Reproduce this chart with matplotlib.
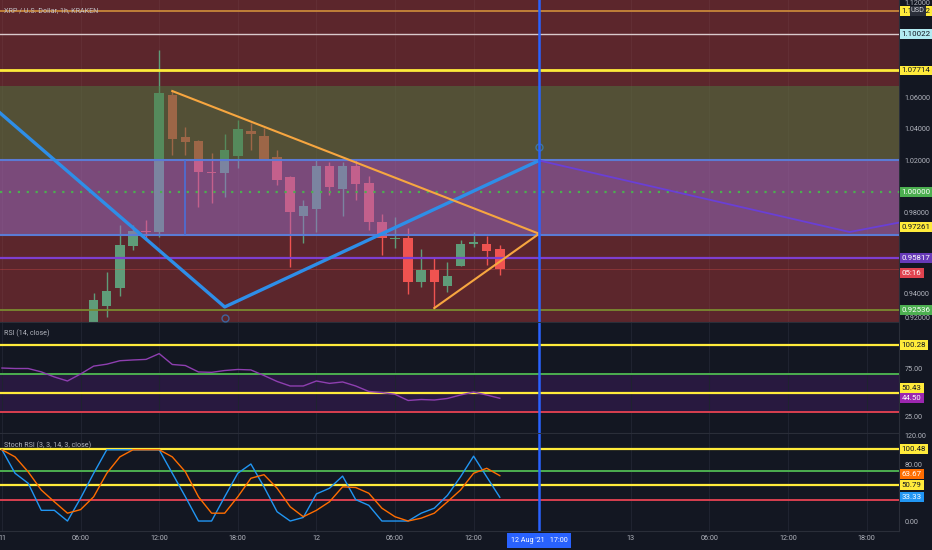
import matplotlib
matplotlib.use('Agg')
import matplotlib.pyplot as plt

plt.rcParams['font.family'] = ['Roboto', 'DejaVu Sans']

# hourly candles, hour 0 = 11 Aug 00:00
hours = list(range(7, 39))
opens = [0.9090, 0.9276, 0.9390, 0.9657, 0.9752, 0.9748, 1.0616, 1.0349, 1.0324, 1.0127,
         1.0121, 1.0229, 1.0387, 1.0356, 1.0222, 1.0095, 0.9848, 0.9892, 1.0165, 1.0019,
         1.0165, 1.0057, 0.9810, 0.9702, 0.9708, 0.9429, 0.9505, 0.9403, 0.9530, 0.9670,
         0.9670, 0.9638]
highs = [0.9359, 0.9492, 0.9790, 0.9790, 0.9822, 1.0902, 1.0648, 1.0413, 1.0330, 1.0248,
         1.0368, 1.0457, 1.0438, 1.0406, 1.0267, 1.0100, 0.9949, 1.0203, 1.0190, 1.0190,
         1.0203, 1.0102, 0.9860, 0.9841, 0.9771, 0.9638, 0.9581, 0.9556, 0.9695, 0.9746,
         0.9718, 0.9663]
lows = [0.9030, 0.9206, 0.9340, 0.9632, 0.9695, 0.9714, 1.0235, 1.0235, 0.9905, 0.9930,
        0.9968, 1.0152, 1.0267, 1.0203, 1.0044, 0.9524, 0.9676, 0.9746, 0.9981, 0.9848,
        0.9949, 0.9759, 0.9600, 0.9644, 0.9352, 0.9397, 0.9263, 0.9365, 0.9530, 0.9651,
        0.9537, 0.9473]
closes = [0.9314, 0.9371, 0.9663, 0.9752, 0.9748, 1.0629, 1.0337, 1.0317, 1.0127, 1.0122,
          1.0267, 1.0400, 1.0368, 1.0210, 1.0076, 0.9873, 0.9911, 1.0165, 1.0032, 1.0165,
          1.0051, 0.9810, 0.9708, 0.9708, 0.9429, 0.9505, 0.9429, 0.9467, 0.9670, 0.9683,
          0.9625, 0.9511]

ind_hours = list(range(0, 39))
rsi = [76, 75.5, 75.5, 72, 66.7, 62.5, 69.8, 78, 80, 83.6, 84.4, 85, 91, 79.7, 78.6, 71.9,
       71.5, 73.4, 74.5, 74, 68.2, 62, 57.3, 57.3, 62.5, 60, 61.5, 57.3, 51.6, 50.5, 48.6,
       42.2, 43.2, 42.7, 44.3, 47.9, 51, 47.9, 44.5]
stoch_k = [100, 67, 53, 15, 15, 0, 32, 67, 100, 100, 100, 100, 100, 67, 34, 0, 0, 34, 67,
           80, 48, 13, 0, 5, 38, 46, 63, 30, 22, 0, 0, 0, 11, 18, 36, 62, 91, 62, 33.33]
stoch_d = [100, 90, 69, 43.5, 27, 11, 16, 34, 67, 90, 100, 100, 100, 90, 69, 34, 11, 11, 34,
           60, 65, 46, 20, 6, 15, 27, 48, 47, 39, 18, 6, 0, 4, 11, 27, 43.5, 67, 74, 63.67]

# drawings (hour, price)
zigzag_h = [-0.15, 17, 41]
zigzag_p = [1.0502, 0.9270, 1.0200]
tri_upper_h = [13, 41]
tri_upper_p = [1.0641, 0.9735]
tri_lower_h = [33, 41]
tri_lower_p = [0.9263, 0.9735]
proj_h = [41, 64.7, 70]
proj_p = [1.0200, 0.9746, 0.9830]
olive_zone = (1.0200, 1.0673)
purple_zone = (0.97261, 1.0200)
cursor_hour = 41

xtick_pos = [0, 6, 12, 18, 24, 30, 36, 48, 54, 60, 66]
xtick_lab = ['11', '06:00', '12:00', '18:00', '12', '06:00', '12:00', '13', '06:00', '12:00', '18:00']

BG = '#131722'
TXT = '#b2b5be'
GRID = '#1f2330'
FS = 5.7     # boxed price labels
FS_T = 5.2   # axis tick labels
FS_H = 5.1   # pane titles

fig = plt.figure(figsize=(9.32, 5.5), dpi=100, facecolor=BG)
ax = fig.add_axes([0, 0.41455, 0.96459, 0.58545])
ax_rsi = fig.add_axes([0, 0.21273, 0.96459, 0.2], sharex=ax)
ax_st = fig.add_axes([0, 0.03455, 0.96459, 0.17636], sharex=ax)

for a in (ax, ax_rsi, ax_st):
    a.set_facecolor(BG)
    for s in ('top', 'left'):
        a.spines[s].set_visible(False)
    a.spines['right'].set_color('#2a2e39')
    a.spines['bottom'].set_color('#2a2e39')
    a.yaxis.tick_right()
    a.tick_params(axis='y', length=0, pad=4, labelsize=FS_T, labelcolor=TXT)
    a.tick_params(axis='x', length=0, pad=3, labelsize=FS_T, labelcolor=TXT)
    a.set_xticks(xtick_pos)
    a.grid(axis='x', color=GRID, lw=0.8, zorder=0)
    a.axvline(cursor_hour, color='#2962ff', lw=1.8, zorder=15)
ax.set_xlim(-0.15, 68.47)
ax.tick_params(axis='x', labelbottom=False)
ax_rsi.tick_params(axis='x', labelbottom=False)
ax_st.set_xticklabels(xtick_lab)


def tag(a, y, text, fc, tc, dy=0):
    a.annotate(text, xy=(1, y), xycoords=('axes fraction', 'data'), xytext=(2, dy),
               textcoords='offset points', ha='left', va='center', fontsize=FS, color=tc,
               bbox=dict(boxstyle='square,pad=0.25', fc=fc, ec='none'),
               annotation_clip=False, zorder=30)


def axis_text(a, y, text, dy):
    a.annotate(text, xy=(1, y), xycoords=('axes fraction', 'data'), xytext=(3, dy),
               textcoords='offset points', ha='left', va='center', fontsize=FS_T, color=TXT,
               annotation_clip=False)


# ---- main price pane
ax.set_facecolor('#5c262c')
ax.set_ylim(0.91746, 1.1219)
ax.grid(axis='x', color='#ffffff', alpha=0.04, lw=0.8)
ax.set_yticks([0.92, 1.02, 1.04, 1.06, 1.12])
ax.yaxis.set_major_formatter(lambda v, p: f'{v:.5f}')
axis_text(ax, 0.98, '0.98000', 7)
axis_text(ax, 0.94, '0.94000', -6)

for h, o, hi, lo, c in zip(hours, opens, highs, lows, closes):
    col = '#5f9c79' if c >= o else '#ef5350'
    ax.vlines(h, lo, hi, color=col, lw=1, zorder=2)
    ax.bar(h, max(abs(c - o), 0.0007), bottom=min(o, c), width=0.72, color=col, lw=0, zorder=2)

ax.axhspan(*olive_zone, color='#4c7a40', alpha=0.5, lw=0, zorder=3)
ax.axhspan(*purple_zone, color='#986ec8', alpha=0.5, lw=0, zorder=3)

ax.axhline(1.11492, color='#c8873a', lw=1.3, zorder=4)
ax.axhline(1.10022, color='#d9c9cc', lw=1.0, zorder=4)
ax.axhline(1.07714, color='#ffeb3b', lw=2.0, zorder=4)
ax.axhline(1.0200, color='#5b7bd5', lw=1.5, zorder=4)
ax.axhline(1.0000, color='#4caf50', lw=1.6, ls=(0, (1, 3)), zorder=4)
ax.axhline(0.97261, color='#5b7bd5', lw=1.5, zorder=4)
ax.axhline(0.95817, color='#7e3fd0', lw=1.6, zorder=4)
ax.axhline(0.92536, color='#7a8a30', lw=1.3, zorder=4)
ax.axhline(closes[-1], color='#ef5350', lw=0.6, alpha=0.35, zorder=4)
ax.vlines(14, purple_zone[0], purple_zone[1], color='#4a70d8', lw=1.2, zorder=4)

ax.plot(zigzag_h, zigzag_p, color='#2e8ee8', lw=2.4, zorder=6)
ax.plot(tri_upper_h, tri_upper_p, color='#f7a640', lw=1.5, zorder=6)
ax.plot(tri_lower_h, tri_lower_p, color='#f7a640', lw=1.5, zorder=6)
ax.plot(proj_h, proj_p, color='#6a3fd6', lw=1.3, zorder=6)
ax.plot([41, 17], [1.0286, 0.9200], ls='none', marker='o', ms=5, mfc='none',
        mec='#2e8ee8', alpha=0.6, zorder=6)

ax.annotate('XRP / U.S. Dollar, 1h, KRAKEN', xy=(0, 1), xycoords='axes fraction',
            xytext=(3, -8), textcoords='offset points', ha='left', va='center',
            fontsize=FS_H, color='#c0bfc6', zorder=20)

tag(ax, 1.11492, '1.11492', '#ffeb3b', '#131722')
ax.annotate('USD', xy=(1, 1.11492), xycoords=('axes fraction', 'data'), xytext=(8.5, 0),
            textcoords='offset points', ha='left', va='center', fontsize=5.2, color='#d1d4dc',
            bbox=dict(boxstyle='square,pad=0.15', fc='#2a2e39', ec='none'),
            annotation_clip=False, zorder=31)
tag(ax, 1.10022, '1.10022', '#b2ebf2', '#131722')
tag(ax, 1.07714, '1.07714', '#ffeb3b', '#131722')
tag(ax, 1.0000, '1.00000', '#4caf50', '#ffffff')
tag(ax, 0.97261, '0.97261', '#ffeb3b', '#131722', dy=6)
tag(ax, 0.95817, '0.95817', '#673ab7', '#ffffff')
tag(ax, closes[-1], '05:16', '#e0434f', '#ffffff', dy=-3)
tag(ax, 0.92536, '0.92536', '#4caf50', '#ffffff')

# ---- RSI pane
ax_rsi.set_ylim(8.33, 122.9)
ax_rsi.set_yticks([25, 75])
ax_rsi.yaxis.set_major_formatter(lambda v, p: f'{v:.2f}')
ax_rsi.axhspan(30, 70, color='#28193f', lw=0, zorder=1)
ax_rsi.axhline(100.28, color='#ffeb3b', lw=1.6, zorder=4)
ax_rsi.axhline(70, color='#4caf50', lw=1.4, zorder=4)
ax_rsi.axhline(50.43, color='#ffeb3b', lw=1.6, zorder=4)
ax_rsi.axhline(30, color='#d94050', lw=1.4, zorder=4)
ax_rsi.plot(ind_hours, rsi, color='#8e3fb0', lw=1.0, zorder=5)
ax_rsi.annotate('RSI (14, close)', xy=(0, 1), xycoords='axes fraction', xytext=(3, -7.5),
                textcoords='offset points', ha='left', va='center', fontsize=FS_H, color=TXT)
tag(ax_rsi, 100.28, '100.28', '#ffeb3b', '#131722')
tag(ax_rsi, 50.43, '50.43', '#ffeb3b', '#131722', dy=3)
tag(ax_rsi, 44.50, '44.50', '#9c27b0', '#ffffff')

# ---- Stoch RSI pane
ax_st.set_ylim(-14.0, 122.1)
ax_st.set_yticks([0, 80, 120])
ax_st.yaxis.set_major_formatter(lambda v, p: f'{v:.2f}')
ax_st.axhline(100.48, color='#ffeb3b', lw=1.6, zorder=4)
ax_st.axhline(70, color='#4caf50', lw=1.4, zorder=4)
ax_st.axhline(50.79, color='#ffeb3b', lw=1.6, zorder=4)
ax_st.axhline(30, color='#d94050', lw=1.4, zorder=4)
ax_st.plot(ind_hours, stoch_k, color='#2196f3', lw=1.0, zorder=5)
ax_st.plot(ind_hours, stoch_d, color='#ff6d00', lw=1.0, zorder=5)
ax_st.annotate('Stoch RSI (3, 3, 14, 3, close)', xy=(0, 1), xycoords='axes fraction',
               xytext=(3, -8), textcoords='offset points', ha='left', va='center',
               fontsize=FS_H, color=TXT)
tag(ax_st, 100.48, '100.48', '#ffeb3b', '#131722')
tag(ax_st, 63.67, '63.67', '#ff6d00', '#ffffff', dy=1)
tag(ax_st, 50.79, '50.79', '#ffeb3b', '#131722')
tag(ax_st, 33.33, '33.33', '#2196f3', '#ffffff')

ax_st.annotate("12 Aug '21   17:00", xy=(cursor_hour, 0), xycoords=('data', 'axes fraction'),
               xytext=(0, -7), textcoords='offset points', ha='center', va='center',
               fontsize=FS_T, color='#ffffff',
               bbox=dict(boxstyle='square,pad=0.55', fc='#2962ff', ec='none'),
               annotation_clip=False, zorder=30)

fig.savefig('out.png', dpi=100, facecolor=BG)
